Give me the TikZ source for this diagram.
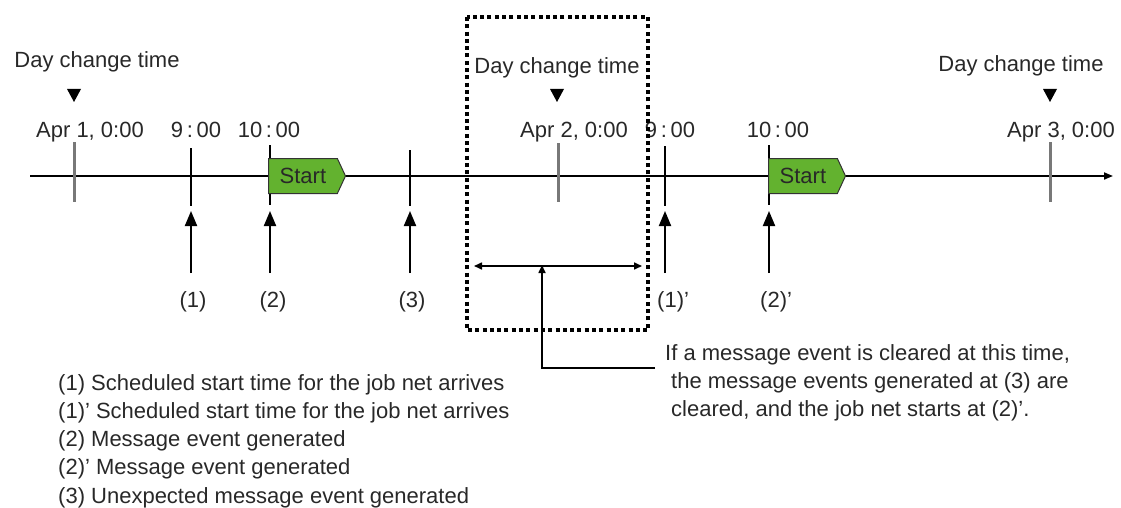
\documentclass[tikz,border=0pt]{standalone}
\usepackage{fontspec}
\setmainfont{Liberation Sans}
\usetikzlibrary{arrows.meta,shapes.symbols}
\definecolor{txt}{RGB}{40,40,40}
\definecolor{startgreen}{RGB}{99,178,47}
\definecolor{daytick}{RGB}{120,120,120}
\begin{document}
\begin{tikzpicture}[x=1pt,y=-1pt,
  lbl/.style={inner sep=0pt, anchor=base, text=txt, font=\fontsize{22}{28.3}\selectfont},
  lblw/.style={lbl, anchor=base west},
  axisline/.style={line width=1.8pt, -{Triangle[width=7pt,length=9pt]}},
  daytickline/.style={draw=daytick, line width=3pt},
  tickline/.style={draw=black, line width=1.8pt},
  uparrow/.style={line width=2pt, -{Triangle[width=12pt,length=15pt]}},
  dblarrow/.style={line width=1.6pt, {Triangle[width=7pt,length=8pt]}-{Triangle[width=7pt,length=8pt]}},
  leader/.style={line width=1.6pt, -{Triangle[width=7pt,length=8pt]}},
  dotbox/.style={line width=4.2pt, dash pattern=on 4pt off 3.3pt},
  startbox/.style={signal, signal to=east, signal pointer angle=130, draw=black!80, line width=1pt,
    fill=startgreen, minimum width=77pt, minimum height=35pt, inner sep=2pt,
    text=txt, font=\fontsize{22}{26}\selectfont, anchor=west},
  daymark/.style={fill=black}
]
\useasboundingbox (0,0) rectangle (1121,508);

% axis
\coordinate (ax0) at (30,176);
\coordinate (ax1) at (1113,176);
\draw[axisline] (ax0) -- (ax1);

% ticks
\draw[daytickline] (74,142) -- (74,202);
\draw[tickline] (191,148) -- (191,206);
\draw[tickline] (270,145) -- (270,205);
\draw[tickline] (410,150) -- (410,206);
\draw[daytickline] (558,143) -- (558,202);
\draw[tickline] (665,146) -- (665,206);
\draw[tickline] (769,145) -- (769,205);
\draw[daytickline] (1050,142) -- (1050,202);

% start boxes
\node[startbox] (s1) at (268,176) {Start};
\node[startbox] (s2) at (768,176) {Start};

% day change labels and markers
\node[lbl] (dc1) at (97,68) {Day change time};
\node[lbl] (dc2) at (557,74) {Day change time};
\node[lbl] (dc3) at (1021,72) {Day change time};
\fill[daymark] (67,89) -- (81,89) -- (74,102) -- cycle;
\fill[daymark] (550,89) -- (564,89) -- (557,102) -- cycle;
\fill[daymark] (1043,89) -- (1057,89) -- (1050,102) -- cycle;

% time labels
\node[lbl] (t1) at (90,137) {Apr 1, 0:00};
\node[lbl] (t2) at (196,137) {9\,:\,00};
\node[lbl] (t3) at (269,137) {10\,:\,00};
\node[lbl] (t4) at (574,137) {Apr 2, 0:00};
\node[lbl] (t5) at (670,137) {9\,:\,00};
\node[lbl] (t6) at (778,137) {10\,:\,00};
\node[lbl] (t7) at (1061,137) {Apr 3, 0:00};

% up arrows
\coordinate (a1b) at (191,273); \coordinate (a1t) at (191,211);
\coordinate (a2b) at (270,273); \coordinate (a2t) at (270,211);
\coordinate (a3b) at (410,273); \coordinate (a3t) at (410,211);
\coordinate (a4b) at (665,273); \coordinate (a4t) at (665,211);
\coordinate (a5b) at (769,273); \coordinate (a5t) at (769,211);
\draw[uparrow] (a1b) -- (a1t);
\draw[uparrow] (a2b) -- (a2t);
\draw[uparrow] (a3b) -- (a3t);
\draw[uparrow] (a4b) -- (a4t);
\draw[uparrow] (a5b) -- (a5t);

% event labels
\node[lbl] (e1) at (193,307) {(1)};
\node[lbl] (e2) at (273,307) {(2)};
\node[lbl] (e3) at (412,307) {(3)};
\node[lblw] (e4) at (657,307) {(1)'};
\node[lblw] (e5) at (760,307) {(2)'};

% dotted box
\draw[dotbox] (467,17) rectangle (648,330);

% double arrow and leader
\coordinate (da) at (474,266);
\coordinate (db) at (642,266);
\coordinate (dm) at (542,266);
\coordinate (lend) at (655,368);
\draw[dblarrow] (da) -- (db);
\draw[leader] (lend) -| ([yshift=1pt]dm);

% note
\node[lblw] (n1) at (665,360) {If a message event is cleared at this time,};
\node[lblw] (n2) at (671,388.3) {the message events generated at (3) are};
\node[lblw] (n3) at (671,416.6) {cleared, and the job net starts at (2)'.};

% legend
\node[lblw] (l1) at (58,390) {(1) Scheduled start time for the job net arrives};
\node[lblw] (l2) at (58,418.3) {(1)' Scheduled start time for the job net arrives};
\node[lblw] (l3) at (58,446.6) {(2) Message event generated};
\node[lblw] (l4) at (58,474.9) {(2)' Message event generated};
\node[lblw] (l5) at (58,503.2) {(3) Unexpected message event generated};
\end{tikzpicture}
\end{document}
